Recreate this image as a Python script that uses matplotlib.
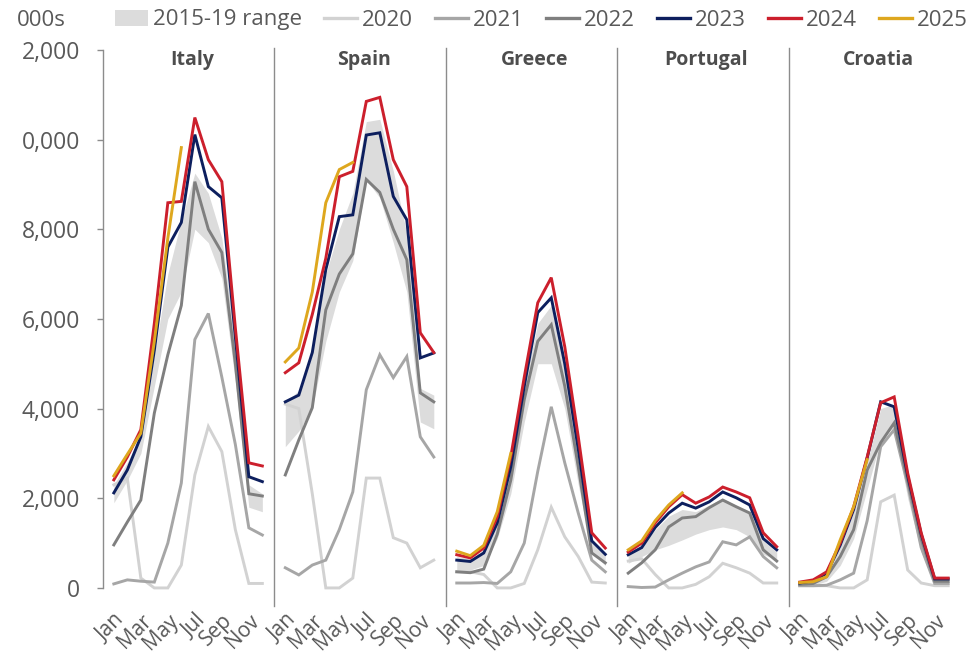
import numpy as np
import matplotlib
matplotlib.use("Agg")
import matplotlib.pyplot as plt
from matplotlib.lines import Line2D
from matplotlib.patches import Patch

# --- data (000s, Jan..Dec) ---
months = ["Jan", "Feb", "Mar", "Apr", "May", "Jun", "Jul", "Aug", "Sep", "Oct", "Nov", "Dec"]
countries = ["Italy", "Spain", "Greece", "Portugal", "Croatia"]
years = ["2020", "2021", "2022", "2023", "2024", "2025"]
nan = np.nan

italy_lo = [1900, 2400, 3000, 4500, 6000, 6600, 8000, 7700, 6900, 4600, 1800, 1700]
italy_hi = [2300, 2800, 3400, 5200, 7000, 8200, 9250, 8800, 7800, 5500, 2300, 2100]
italy_2020 = [2300, 2450, 220, 0, 0, 510, 2520, 3600, 3040, 1300, 100, 100]
italy_2021 = [90, 180, 150, 130, 1000, 2340, 5540, 6120, 4700, 3200, 1340, 1180]
italy_2022 = [960, 1470, 1960, 3900, 5200, 6300, 9060, 8000, 7480, 5000, 2100, 2050]
italy_2023 = [2120, 2630, 3370, 5300, 7600, 8150, 10110, 8950, 8700, 5600, 2480, 2370]
italy_2024 = [2410, 2920, 3530, 5900, 8590, 8620, 10490, 9550, 9060, 5800, 2790, 2720]
italy_2025 = [2500, 2980, 3450, 5500, 7800, 9820, nan, nan, nan, nan, nan, nan]

spain_lo = [3150, 3500, 4000, 5500, 6600, 7300, 9100, 8700, 7700, 6600, 3700, 3550]
spain_hi = [4150, 4400, 5300, 7000, 8000, 8800, 10400, 10450, 9300, 7900, 4450, 4300]
spain_2020 = [4100, 4000, 2100, 0, 0, 220, 2450, 2450, 1120, 1000, 450, 620]
spain_2021 = [450, 290, 510, 620, 1300, 2140, 4420, 5200, 4690, 5160, 3370, 2920]
spain_2022 = [2520, 3300, 4020, 6200, 7000, 7450, 9110, 8820, 8000, 7320, 4350, 4150]
spain_2023 = [4150, 4300, 5250, 7100, 8280, 8320, 10100, 10150, 8730, 8210, 5130, 5240]
spain_2024 = [4800, 5020, 6100, 7350, 9170, 9290, 10850, 10940, 9550, 8950, 5690, 5250]
spain_2025 = [5040, 5350, 6600, 8590, 9330, 9490, nan, nan, nan, nan, nan, nan]

greece_lo = [400, 400, 500, 1100, 2100, 3700, 5000, 5000, 4000, 2300, 800, 500]
greece_hi = [700, 650, 850, 1500, 2700, 4500, 5900, 6300, 5100, 3000, 1000, 700]
greece_2020 = [360, 360, 300, 0, 0, 100, 850, 1800, 1140, 700, 130, 110]
greece_2021 = [110, 110, 120, 100, 360, 1000, 2600, 4040, 2790, 1670, 620, 360]
greece_2022 = [360, 340, 420, 1200, 2400, 4200, 5500, 5870, 4500, 2700, 780, 560]
greece_2023 = [620, 590, 780, 1450, 2700, 4500, 6140, 6470, 5000, 3100, 1050, 750]
greece_2024 = [740, 670, 890, 1590, 2920, 4700, 6360, 6920, 5380, 3370, 1230, 890]
greece_2025 = [820, 720, 950, 1700, 3000, nan, nan, nan, nan, nan, nan, nan]

portugal_lo = [550, 700, 850, 950, 1070, 1200, 1300, 1360, 1300, 1140, 750, 620]
portugal_hi = [750, 950, 1300, 1600, 1750, 1700, 1850, 2000, 1850, 1700, 1050, 800]
portugal_2020 = [600, 650, 300, 0, 0, 80, 250, 550, 450, 330, 110, 110]
portugal_2021 = [30, 10, 20, 180, 330, 470, 580, 1030, 960, 1140, 700, 450]
portugal_2022 = [330, 560, 850, 1360, 1560, 1590, 1790, 1960, 1810, 1670, 850, 600]
portugal_2023 = [740, 900, 1350, 1670, 1890, 1780, 1920, 2140, 2010, 1850, 1100, 850]
portugal_2024 = [800, 1000, 1450, 1810, 2080, 1890, 2030, 2250, 2140, 2010, 1230, 920]
portugal_2025 = [850, 1050, 1500, 1850, 2120, nan, nan, nan, nan, nan, nan, nan]

croatia_lo = [50, 60, 150, 500, 1100, 2200, 3300, 3600, 2000, 800, 100, 100]
croatia_hi = [150, 180, 350, 900, 1700, 2800, 4000, 4100, 2500, 1200, 250, 200]
croatia_2020 = [50, 50, 50, 0, 0, 180, 1920, 2070, 400, 110, 50, 50]
croatia_2021 = [50, 50, 60, 180, 330, 1500, 3150, 3530, 2300, 900, 100, 100]
croatia_2022 = [80, 100, 250, 700, 1300, 2630, 3240, 3680, 2400, 1100, 150, 150]
croatia_2023 = [110, 160, 330, 950, 1750, 2900, 4150, 4040, 2500, 1200, 200, 200]
croatia_2024 = [130, 180, 360, 1000, 1810, 2920, 4130, 4260, 2560, 1230, 220, 220]
croatia_2025 = [120, 140, 250, 1070, 1810, 2860, nan, nan, nan, nan, nan, nan]

ytick_vals = [0, 2000, 4000, 6000, 8000, 10000, 12000]
ytick_labels = ["0", "2,000", "4,000", "6,000", "8,000", "0,000", "2,000"]
xtick_months = ["Jan", "Mar", "May", "Jul", "Sep", "Nov"]

# --- styling ---
band_color = "#dcdcdc"
year_colors = {"2020": "#d2d2d2", "2021": "#a6a6a6", "2022": "#7f7f7f",
               "2023": "#0d1f5e", "2024": "#cc1f2c", "2025": "#dea71e"}
text_color = "#595959"
spine_color = "#8c8c8c"

plt.rcParams["font.family"] = ["Open Sans", "DejaVu Sans"]

panels = [
    (italy_lo, italy_hi, [italy_2020, italy_2021, italy_2022, italy_2023, italy_2024, italy_2025]),
    (spain_lo, spain_hi, [spain_2020, spain_2021, spain_2022, spain_2023, spain_2024, spain_2025]),
    (greece_lo, greece_hi, [greece_2020, greece_2021, greece_2022, greece_2023, greece_2024, greece_2025]),
    (portugal_lo, portugal_hi, [portugal_2020, portugal_2021, portugal_2022, portugal_2023, portugal_2024, portugal_2025]),
    (croatia_lo, croatia_hi, [croatia_2020, croatia_2021, croatia_2022, croatia_2023, croatia_2024, croatia_2025]),
]

fig, axes = plt.subplots(1, 5, figsize=(9.72, 6.55), dpi=100, sharey=True)
fig.subplots_adjust(left=0.106, right=0.988, bottom=0.075, top=0.927, wspace=0)

x = np.arange(len(months))
for i, (ax, name, (lo, hi, series)) in enumerate(zip(axes, countries, panels)):
    ax.fill_between(x, lo, hi, color=band_color, linewidth=0, zorder=1)
    for yr, vals in zip(years, series):
        ax.plot(x, vals, color=year_colors[yr], linewidth=2.1, zorder=2,
                solid_joinstyle="miter")

    ax.set_xlim(-0.8, 11.9)
    ax.set_ylim(-400, 12045)
    ax.text(5.8, 11780, name, ha="center", va="center", fontsize=14,
            fontweight="bold", color="#4d4d4d")

    for s in ["top", "right", "bottom"]:
        ax.spines[s].set_visible(False)
    ax.spines["left"].set_color(spine_color)
    ax.spines["left"].set_linewidth(1.0)

    ax.set_xticks(x[::2])
    ax.set_xticklabels(xtick_months, rotation=45, ha="right", va="top",
                       rotation_mode="anchor", color=text_color, fontsize=15)
    ax.tick_params(axis="x", length=0, pad=3)

    if i == 0:
        ax.spines["left"].set_bounds(0, 12000)
        ax.set_yticks(ytick_vals)
        ax.set_yticklabels(ytick_labels)
        ax.tick_params(axis="y", length=4.5, width=1.0, color=spine_color,
                       labelcolor=text_color, labelsize=16.5, pad=12)
    else:
        ax.tick_params(axis="y", left=False, labelleft=False)

fig.text(17 / 972, 1 - 20 / 655, "000s", ha="left", va="center",
         fontsize=16, color=text_color)

handles = [Patch(facecolor=band_color, edgecolor="none", label="2015-19 range")]
for yr in years:
    handles.append(Line2D([0], [0], color=year_colors[yr], linewidth=2.4, label=yr))
leg = fig.legend(handles=handles, loc="center", bbox_to_anchor=(0.557, 1 - 20 / 655),
                 ncol=7, frameon=False, fontsize=16, handlelength=1.5,
                 handletextpad=0.2, columnspacing=1.0, borderaxespad=0)
for t in leg.get_texts():
    t.set_color(text_color)

fig.savefig("out.png", dpi=100)
